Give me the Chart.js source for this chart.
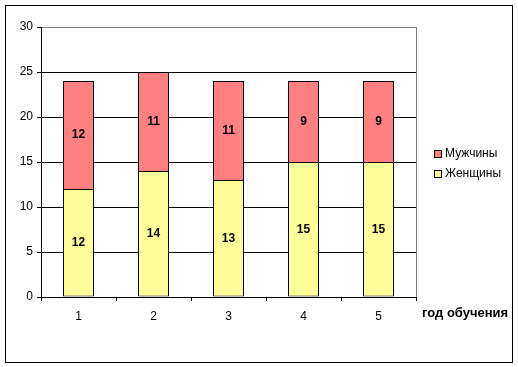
<!DOCTYPE html>
<html>
<head>
<meta charset="utf-8">
<script src="https://cdn.jsdelivr.net/npm/chart.js@4"></script>
<style>
  body { margin: 0; background: #fff; }
  #wrap { width: 518px; height: 367px; position: relative; }
</style>
</head>
<body>
<div id="wrap"><canvas id="myChart" width="518" height="367"></canvas></div>
<script>
const years = ['1', '2', '3', '4', '5'];
const women = [12, 14, 13, 15, 15];
const men = [12, 11, 11, 9, 9];
const yTicks = [0, 5, 10, 15, 20, 25, 30];
const seriesNames = ['Женщины', 'Мужчины'];
const xTitle = 'год обучения';

const FONT = 'Arial, "Liberation Sans", sans-serif';
const womenColor = '#FFFF99';
const menColor = '#FF8080';

// labels in the middle of each segment, legend, axis title, frame
const extras = {
    id: 'extras',
    afterDatasetsDraw(chart) {
        const c = chart.ctx;
        const area = chart.chartArea;
        c.save();
        // plot area right border (gray)
        c.strokeStyle = '#808080';
        c.lineWidth = 1;
        c.beginPath();
        c.moveTo(Math.round(area.right) + 0.5, area.top);
        c.lineTo(Math.round(area.right) + 0.5, area.bottom);
        c.stroke();

        c.font = 'bold 12px ' + FONT;
        c.fillStyle = '#000';
        c.textAlign = 'center';
        c.textBaseline = 'middle';
        chart.data.datasets.forEach((ds, i) => {
            chart.getDatasetMeta(i).data.forEach((bar, j) => {
                const p = bar.getProps(['x', 'y', 'base'], true);
                c.fillText(String(ds.data[j]), p.x, (p.y + p.base) / 2);
            });
        });

        // legend (men on top, like the original)
        const items = [[seriesNames[1], menColor], [seriesNames[0], womenColor]];
        c.font = '12px ' + FONT;
        c.textAlign = 'left';
        items.forEach((it, k) => {
            const y = 150 + k * 20;
            c.fillStyle = it[1];
            c.fillRect(434, y, 7, 7);
            c.strokeStyle = '#000';
            c.strokeRect(434.5, y + 0.5, 7, 7);
            c.fillStyle = '#000';
            c.fillText(it[0], 445, y + 4);
        });

        // axis title next to the x labels
        c.font = 'bold 13px ' + FONT;
        c.fillText(xTitle, 422, 313);

        // outer frame
        c.strokeStyle = '#000';
        c.strokeRect(5.5, 5.5, 507, 357);
        c.restore();
    }
};

const ctx = document.getElementById('myChart').getContext('2d');
const myChart = new Chart(ctx, {
    type: 'bar',
    data: {
        labels: years,
        datasets: [
            {
                label: seriesNames[0],
                data: women,
                backgroundColor: womenColor,
                borderColor: '#000',
                borderWidth: 1,
                borderSkipped: false
            },
            {
                label: seriesNames[1],
                data: men,
                backgroundColor: menColor,
                borderColor: '#000',
                borderWidth: 1,
                borderSkipped: 'bottom'
            }
        ]
    },
    options: {
        responsive: false,
        animation: false,
        events: [],
        datasets: { bar: { categoryPercentage: 1, barPercentage: 31 / 75 } },
        layout: { padding: { left: 0, top: 27, right: 102, bottom: 0 } },
        plugins: { legend: { display: false }, tooltip: { enabled: false } },
        scales: {
            x: {
                stacked: true,
                afterFit: (s) => { s.height = 70; },
                grid: {
                    offset: true,
                    drawOnChartArea: false,
                    drawTicks: true,
                    tickLength: 4,
                    color: '#000'
                },
                border: { color: '#000' },
                ticks: { color: '#000', font: { family: FONT, size: 12 }, padding: 8 }
            },
            y: {
                stacked: true,
                min: 0,
                max: 30,
                afterFit: (s) => { s.width = 41; },
                afterBuildTicks: (s) => { s.ticks = yTicks.map(v => ({ value: v })); },
                grid: {
                    color: (g) => g.tick && g.tick.value === 30 ? '#808080' : '#000',
                    tickColor: '#000',
                    tickLength: 4
                },
                border: { color: '#000' },
                ticks: { color: '#000', font: { family: FONT, size: 12 }, padding: 4 }
            }
        }
    },
    plugins: [extras]
});
</script>
</body>
</html>
